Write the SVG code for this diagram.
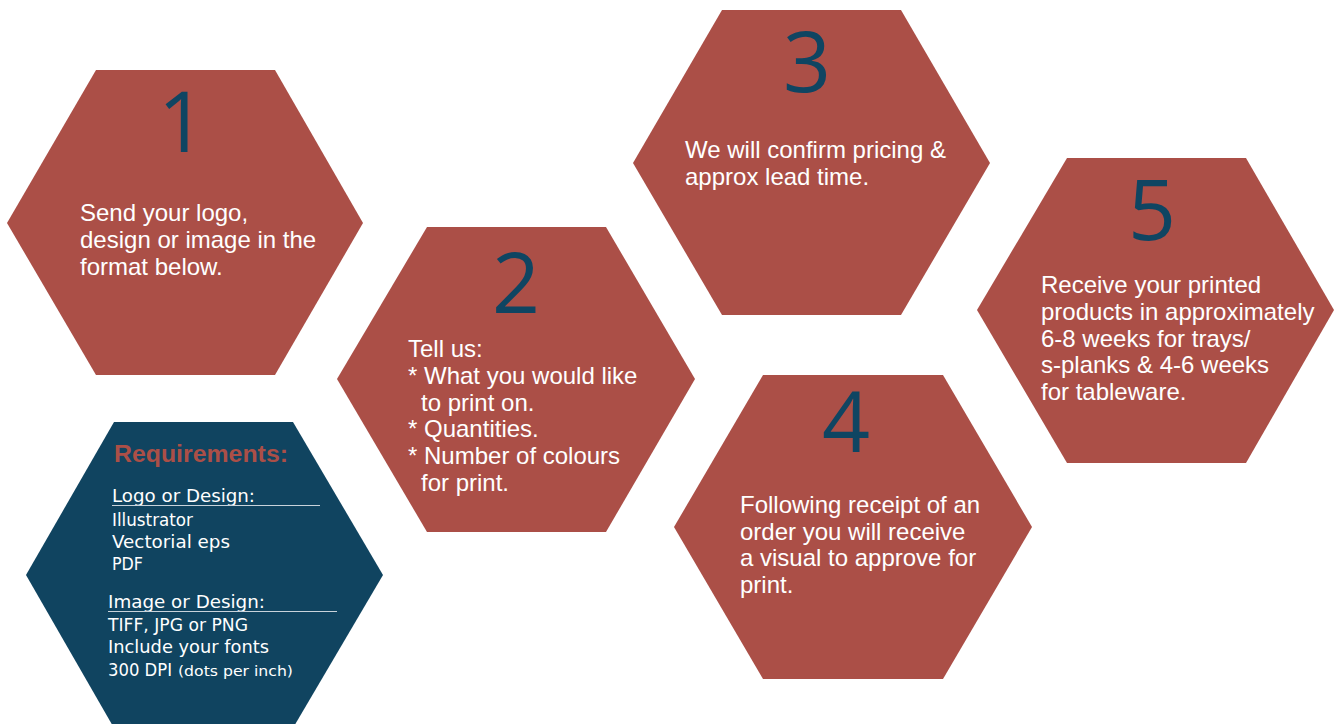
<svg xmlns="http://www.w3.org/2000/svg" width="1335" height="724" viewBox="0 0 1335 724">
<style>
.hex{fill:#AB4F47}
.hexb{fill:#104460}
.num{font-family:"Open Sans","Noto Sans",sans-serif;font-size:84px;fill:#0F4562;text-anchor:middle}
.txt{font-family:"Liberation Sans",Arial,sans-serif;font-size:24px;fill:#FFFFFF}
.req{font-family:"Liberation Sans",Arial,sans-serif;font-size:23px;font-weight:bold;fill:#AB4F47}
.rt{font-family:"DejaVu Sans","Liberation Sans",sans-serif;font-size:17px;fill:#FFFFFF}
.rs{font-size:14px}
.ul{stroke:#C9D3DB;stroke-width:1.2}
</style>
<rect width="1335" height="724" fill="#FFFFFF"/>
<g id="connectors"></g>
<g id="node1">
<polygon class="hex" points="96,70 275,70 363,223 275,375 96,375 7,223"/>
<text class="num" x="182" y="152">1</text>
<text class="txt" x="80" y="221">Send your logo,</text>
<text class="txt" x="80" y="248">design or image in the</text>
<text class="txt" x="80" y="275">format below.</text>
</g>
<g id="node2">
<polygon class="hex" points="427,227 606,227 695,379 606,532 427,532 337,379"/>
<text class="num" x="516" y="313">2</text>
<text class="txt" x="408" y="357">Tell us:</text>
<text class="txt" x="408" y="384">* What you would like</text>
<text class="txt" x="421" y="411">to print on.</text>
<text class="txt" x="408" y="437">* Quantities.</text>
<text class="txt" x="408" y="464">* Number of colours</text>
<text class="txt" x="421" y="491">for print.</text>
</g>
<g id="node3">
<polygon class="hex" points="722,10 901,10 990,163 901,315 722,315 633,163"/>
<text class="num" x="807" y="92">3</text>
<text class="txt" x="685" y="158">We will confirm pricing &amp;</text>
<text class="txt" x="685" y="185">approx lead time.</text>
</g>
<g id="node4">
<polygon class="hex" points="763,375 943,375 1032,527 943,679 763,679 674,527"/>
<text class="num" x="846" y="452">4</text>
<text class="txt" x="740" y="513">Following receipt of an</text>
<text class="txt" x="740" y="540">order you will receive</text>
<text class="txt" x="740" y="566">a visual to approve for</text>
<text class="txt" x="740" y="593">print.</text>
</g>
<g id="node5">
<polygon class="hex" points="1067,158 1246,158 1334,310 1246,463 1067,463 977,310"/>
<text class="num" x="1152" y="240">5</text>
<text class="txt" x="1041" y="293">Receive your printed</text>
<text class="txt" x="1041" y="320">products in approximately</text>
<text class="txt" x="1041" y="347">6-8 weeks for trays/</text>
<text class="txt" x="1041" y="373">s-planks &amp; 4-6 weeks</text>
<text class="txt" x="1041" y="400">for tableware.</text>
</g>
<g id="requirements">
<polygon class="hexb" points="114,422 293,422 383,575 293,728 114,728 26,575"/>
<text class="req" x="114" y="462" textLength="174" lengthAdjust="spacingAndGlyphs">Requirements:</text>
<text class="rt" x="112" y="502" textLength="143" lengthAdjust="spacingAndGlyphs">Logo or Design:</text>
<line class="ul" x1="112" y1="505.5" x2="320" y2="505.5"/>
<text class="rt" x="112" y="526" textLength="81" lengthAdjust="spacingAndGlyphs">Illustrator</text>
<text class="rt" x="112" y="548" textLength="118" lengthAdjust="spacingAndGlyphs">Vectorial eps</text>
<text class="rt" x="112" y="570" textLength="31" lengthAdjust="spacingAndGlyphs">PDF</text>
<text class="rt" x="108" y="608" textLength="157" lengthAdjust="spacingAndGlyphs">Image or Design:</text>
<line class="ul" x1="108" y1="611.5" x2="337" y2="611.5"/>
<text class="rt" x="108" y="631" textLength="140" lengthAdjust="spacingAndGlyphs">TIFF, JPG or PNG</text>
<text class="rt" x="108" y="653" textLength="161" lengthAdjust="spacingAndGlyphs">Include your fonts</text>
<text class="rt" x="108" y="676"><tspan textLength="64" lengthAdjust="spacingAndGlyphs">300 DPI</tspan><tspan class="rs" x="178" textLength="115" lengthAdjust="spacingAndGlyphs">(dots per inch)</tspan></text>
</g>
</svg>
